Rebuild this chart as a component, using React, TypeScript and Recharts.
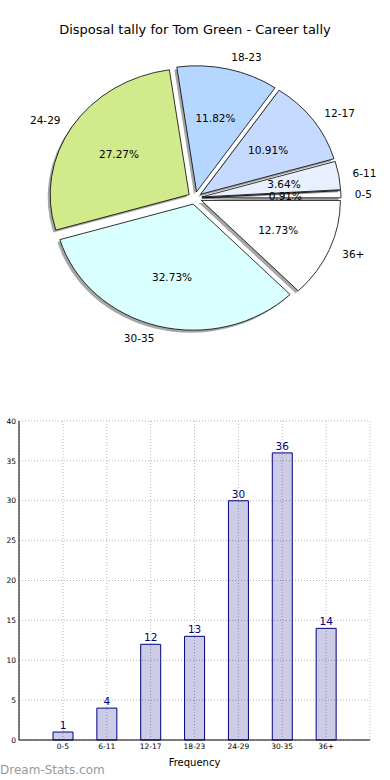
import React from 'react';
import { PieChart, Pie, Cell, BarChart, Bar, XAxis, YAxis, CartesianGrid, LabelList } from 'recharts';

// disposal ranges and how many games fell in each
const ranges = ['0-5', '6-11', '12-17', '18-23', '24-29', '30-35', '36+'];
const games = [1, 4, 12, 13, 30, 36, 14];
const sliceColors = ['#ffffff', '#e8f0ff', '#c6d9ff', '#b4d6ff', '#d0ea8c', '#daffff', '#ffffff'];
const yTicks = [0, 5, 10, 15, 20, 25, 30, 35, 40];

const tally = ranges.map((name, i) => ({ name, value: games[i] }));

const FONT = '"DejaVu Sans", sans-serif';
const RAD = Math.PI / 180;
const ASPECT = 0.907; // old matplotlib pie drawn without equal axes -> ellipse
const EXPLODE = 0.05;

const pt = (cx: number, cy: number, rx: number, ry: number, angle: number) => ({
  x: cx + rx * Math.cos(angle * RAD),
  y: cy - ry * Math.sin(angle * RAD),
});

const EllipseSlice = (props: any) => {
  const { cx, cy, outerRadius, startAngle, endAngle, midAngle, fill } = props;
  const rx = outerRadius;
  const ry = outerRadius * ASPECT;
  const c = pt(cx, cy, EXPLODE * rx, EXPLODE * ry, midAngle);
  const a = pt(c.x, c.y, rx, ry, startAngle);
  const b = pt(c.x, c.y, rx, ry, endAngle);
  const large = Math.abs(endAngle - startAngle) > 180 ? 1 : 0;
  const d = `M${c.x},${c.y} L${a.x},${a.y} A${rx},${ry} 0 ${large} 0 ${b.x},${b.y} Z`;
  return (
    <g>
      <path d={d} transform="translate(-2.5,2.5)" fill="#000" fillOpacity={0.35} stroke="none" />
      <path d={d} fill={fill} stroke="#000" strokeWidth={0.8} />
    </g>
  );
};

const renderPieLabel = (props: any) => {
  const { cx, cy, outerRadius, midAngle, name, percent } = props;
  const rx = outerRadius;
  const ry = outerRadius * ASPECT;
  const c = pt(cx, cy, EXPLODE * rx, EXPLODE * ry, midAngle);
  const outer = pt(c.x, c.y, 1.1 * rx, 1.1 * ry, midAngle);
  const inner = pt(c.x, c.y, 0.6 * rx, 0.6 * ry, midAngle);
  const anchor = Math.cos(midAngle * RAD) > 0 ? 'start' : 'end';
  return (
    <g>
      <text x={outer.x} y={outer.y} textAnchor={anchor} dominantBaseline="central" fontSize={10.5} fontFamily={FONT} fill="#000">
        {name}
      </text>
      <text x={inner.x} y={inner.y} textAnchor="middle" dominantBaseline="central" fontSize={10.5} fontFamily={FONT} fill="#000">
        {(percent * 100).toFixed(2)}%
      </text>
    </g>
  );
};

export default function App() {
  return (
    <div style={{ position: 'absolute', left: 0, top: 0, width: 390, height: 780, background: '#fff', fontFamily: FONT }}>
      {/* pie */}
      <div style={{ position: 'absolute', left: 0, top: 21, width: 390, textAlign: 'center', fontSize: 13, lineHeight: '17px', color: '#000' }}>
        Disposal tally for Tom Green - Career tally
      </div>
      <div style={{ position: 'absolute', left: 0, top: 0 }}>
        <PieChart width={390} height={370} margin={{ top: 0, right: 0, bottom: 0, left: 0 }}>
          <Pie
            data={tally}
            dataKey="value"
            nameKey="name"
            cx={195}
            cy={198}
            outerRadius={139}
            startAngle={0}
            endAngle={360}
            isAnimationActive={false}
            labelLine={false}
            label={renderPieLabel}
            shape={EllipseSlice}
            activeShape={EllipseSlice}
            inactiveShape={EllipseSlice}
          >
            {tally.map((d, i) => (
              <Cell key={d.name} fill={sliceColors[i]} />
            ))}
          </Pie>
        </PieChart>
      </div>

      {/* bar */}
      <div style={{ position: 'absolute', left: 0, top: 400 }}>
        <BarChart width={390} height={380} data={tally} margin={{ top: 21, right: 20, bottom: 0, left: 0 }}>
          <CartesianGrid stroke="#b5b5b5" strokeDasharray="1 2" />
          <XAxis
            dataKey="name"
            padding={{ left: 22, right: 22 }}
            height={40}
            tickSize={0}
            tickMargin={4}
            tick={{ fontSize: 7.5, fill: '#000', fontFamily: FONT }}
            axisLine={{ stroke: '#000' }}
            label={{ value: 'Frequency', position: 'insideBottom', offset: 14, fontSize: 10, fill: '#000', fontFamily: FONT }}
          />
          <XAxis xAxisId="top" orientation="top" dataKey="name" height={0} tick={false} tickLine={false} axisLine={{ stroke: '#000' }} />
          <YAxis
            domain={[0, 40]}
            ticks={yTicks}
            width={19}
            tickSize={0}
            tickMargin={3}
            interval={0}
            tick={{ fontSize: 7.5, fill: '#000', fontFamily: FONT }}
            axisLine={{ stroke: '#000' }}
          />
          <YAxis yAxisId="right" orientation="right" domain={[0, 40]} width={0} tick={false} tickLine={false} axisLine={{ stroke: '#000' }} />
          <Bar dataKey="value" barSize={20} fill="#000080" fillOpacity={0.2} stroke="#000080" strokeWidth={1} isAnimationActive={false}>
            <LabelList dataKey="value" position="top" offset={3} fontSize={10.5} fill="#000080" fontFamily={FONT} />
          </Bar>
        </BarChart>
      </div>

      <div style={{ position: 'absolute', left: 0, top: 763, fontSize: 12, lineHeight: '14px', color: '#999' }}>
        Dream-Stats.com
      </div>
    </div>
  );
}
